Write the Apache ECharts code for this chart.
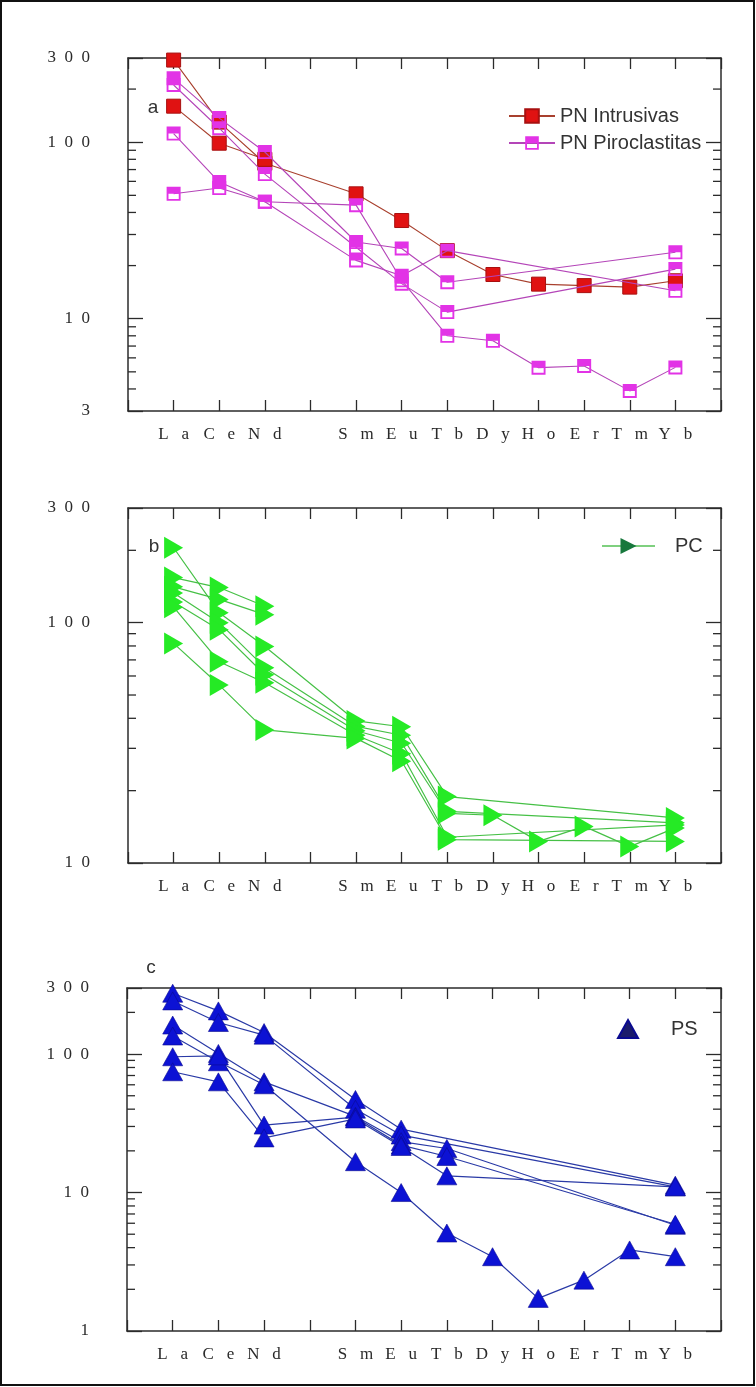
<!DOCTYPE html>
<html>
<head>
<meta charset="utf-8">
<script src="https://cdn.jsdelivr.net/npm/echarts@6/dist/echarts.min.js"></script>
<style>
  html, body { margin: 0; padding: 0; background: #fff; }
  #chart { width: 756px; height: 1387px; }
</style>
</head>
<body>
<div id="chart"></div>
<script>
// Chondrite-normalised REE patterns, three groups of samples.
// Tick slots along x (the blank slot sits between Nd and Sm).
const elements = ['La', 'Ce', 'Nd', '', 'Sm', 'Eu', 'Tb', 'Dy', 'Ho', 'Er', 'Tm', 'Yb'];
const _ = null;

// (a) PN Intrusivas
const pnIntrusivas = [
  [292, 130, 76, _, 51, 36, 24.3, 17.8, 15.7, 15.4, 15.1, 16.4],
  [160, 98.7, 80, _, _, _, _, _, _, _, _, _]
];
// (a) PN Piroclastitas
const pnPiroclastitas = [
  [230, 137, 88, _, 27.2, 25, 16.1, _, _, _, _, 23.8],
  [211, 120, 66, _, 25.4, 15.8, 10.9, _, _, _, _, 19.1],
  [112, 59.5, 46, _, 21.4, 17.5, 24.3, _, _, _, _, 14.4],
  [51, 55, 46, _, 44, 16.5, 8.0, 7.5, 5.28, 5.4, 3.9, 5.3]
];
// (b) PC
const pcSamples = [
  [205, 110, 79.6, _, 39, 36.9, 18.9, _, _, _, _, 15.4],
  [154, 140, 117, _, _, _, _, _, _, _, _, _],
  [141, 125, 108, _, _, _, _, _, _, _, _, _],
  [133, 100, 65, _, 37, 34, 16.4, _, _, _, _, 14.7],
  [122, 93.5, 60.7, _, 35.5, 31.5, 16.1, 15.8, 12.3, 14.2, 11.7, 14.0],
  [116, 68.8, 56.2, _, 34, 28.5, 12.8, _, _, _, _, 14.4],
  [82, 55, 35.8, _, 33, 26.5, 12.5, _, _, _, _, 12.3]
];
// (c) PS
const psSamples = [
  [275, 205, 143, _, 47, 28.7, _, _, _, _, _, 11.3],
  [242, 169, 137, _, 40, 26, _, _, _, _, _, 11.0],
  [162, 101, 63, _, 35.5, 23.3, 20.8, _, _, _, _, 5.8],
  [135, 88, 60, _, 16.7, 10, 5.1, 3.44, 1.72, 2.33, 3.85, 3.44],
  [95.6, 97, 30.7, _, 35, 22, 18.2, _, _, _, _, 5.9],
  [74.5, 63, 24.8, _, 34, 21.5, 13.2, _, _, _, _, 11.0]
];

// y ranges and minor tick values of the three log axes
const yRanges = [[3, 300], [10, 300], [1, 300]];
const minorTicks = [
  [4, 5, 6, 7, 8, 9, 20, 30, 40, 50, 60, 70, 80, 90, 200],
  [20, 30, 40, 50, 60, 70, 80, 90, 200],
  [2, 3, 4, 5, 6, 7, 8, 9, 20, 30, 40, 50, 60, 70, 80, 90, 200]
];

const grids = [
  { left: 128, top: 58, width: 593, height: 353 },
  { left: 128, top: 508, width: 593, height: 355 },
  { left: 127, top: 988, width: 594, height: 343 }
];

const spaceOut = (s, gap) => s.split('').join(gap);
const frameColor = '#2b2b2b';
const serif = "'Liberation Serif', 'DejaVu Serif', serif";
const sans = "'Liberation Sans', Arial, sans-serif";

const xAxes = [], yAxes = [];
grids.forEach((g, i) => {
  const common = {
    type: 'value', gridIndex: i, min: -1, max: 12, interval: 1,
    axisLine: { show: true, onZero: false, lineStyle: { color: frameColor, width: 1.5 } },
    axisTick: { show: true, inside: true, length: 11, lineStyle: { color: frameColor, width: 1.3 } },
    splitLine: { show: false }
  };
  xAxes.push(Object.assign({}, common, {
    position: 'bottom',
    axisLabel: {
      show: true, margin: 15, fontSize: 17, fontFamily: serif, color: '#2a2a2a',
      formatter: v => (elements[v] ? spaceOut(elements[v], '   ') : '')
    }
  }));
  xAxes.push(Object.assign({}, common, { position: 'top', axisLabel: { show: false } }));

  const yc = {
    type: 'log', logBase: 10, gridIndex: i, min: yRanges[i][0], max: yRanges[i][1],
    axisLine: { show: true, onZero: false, lineStyle: { color: frameColor, width: 1.5 } },
    axisTick: { show: true, inside: true, length: 15, lineStyle: { color: frameColor, width: 1.3 } },
    splitLine: { show: false }
  };
  yAxes.push(Object.assign({}, yc, {
    position: 'left',
    axisLabel: {
      show: true, margin: 38, fontSize: 17, fontFamily: serif, color: '#2a2a2a',
      formatter: v => spaceOut(String(Math.round(v)), '  ')
    }
  }));
  yAxes.push(Object.assign({}, yc, { position: 'right', axisLabel: { show: false } }));
});

// Hollow square with the upper half filled
const halfSquare = 'path://M0,0H12V12H0Z M1.6,1.6V10.4H10.4V1.6Z M1.6,1.6H10.4V6H1.6Z';

function makeSeries(name, rows, gi, opts) {
  return rows.map(r => Object.assign({
    type: 'line', name,
    xAxisIndex: gi * 2, yAxisIndex: gi * 2,
    data: r.map((v, k) => (v == null ? null : [k, v])).filter(d => d),
    animation: false, silent: true
  }, opts));
}

const series = [].concat(
  makeSeries('PN Intrusivas', pnIntrusivas, 0, {
    symbol: 'rect', symbolSize: 14, z: 3,
    lineStyle: { color: '#a8402e', width: 1.1 },
    itemStyle: { color: '#e01212', borderColor: '#a81010', borderWidth: 1 }
  }),
  makeSeries('PN Piroclastitas', pnPiroclastitas, 0, {
    symbol: halfSquare, symbolSize: 14, z: 4,
    lineStyle: { color: '#b445b8', width: 1.1 },
    itemStyle: { color: '#e233e6' }
  }),
  makeSeries('PC', pcSamples, 1, {
    symbol: 'triangle', symbolSize: [22, 19], symbolRotate: -90, z: 3,
    lineStyle: { color: '#46c046', width: 1.2 },
    itemStyle: { color: '#25ea25' }
  }),
  makeSeries('PS', psSamples, 2, {
    symbol: 'triangle', symbolSize: [20, 18], z: 3,
    lineStyle: { color: '#2a3aa6', width: 1.2 },
    itemStyle: { color: '#0c12d4', borderColor: '#0a0a90', borderWidth: 0.6 }
  })
);

// Minor ticks on both vertical frame edges, placed through the log axes
minorTicks.forEach((vals, gi) => {
  series.push({
    type: 'custom', xAxisIndex: gi * 2, yAxisIndex: gi * 2, silent: true, z: 2,
    data: vals.map(v => [0, v]),
    renderItem: (params, api) => {
      const cs = params.coordSys;
      const y = api.coord([0, api.value(1)])[1];
      const st = { stroke: frameColor, lineWidth: 1.3 };
      return {
        type: 'group', children: [
          { type: 'line', shape: { x1: cs.x, y1: y, x2: cs.x + 8, y2: y }, style: st },
          { type: 'line', shape: { x1: cs.x + cs.width - 8, y1: y, x2: cs.x + cs.width, y2: y }, style: st }
        ]
      };
    }
  });
});

const legendText = { fontSize: 20, fontFamily: sans, color: '#333' };

const option = {
  animation: false,
  backgroundColor: '#ffffff',
  grid: grids,
  xAxis: xAxes,
  yAxis: yAxes,
  legend: [
    {
      data: ['PN Intrusivas', 'PN Piroclastitas'], orient: 'vertical', selectedMode: false,
      left: 503, top: 101, itemWidth: 46, itemHeight: 17, itemGap: 7,
      textStyle: legendText
    },
    {
      data: [{ name: 'PC', itemStyle: { color: '#17783c' }, lineStyle: { color: '#7fd07f' } }],
      selectedMode: false, left: 596, top: 531, itemWidth: 53, itemHeight: 20,
      textStyle: Object.assign({ padding: [0, 0, 0, 15] }, legendText)
    },
    {
      data: [{ name: 'PS', icon: 'triangle', itemStyle: { color: '#1b1b6b' } }],
      selectedMode: false, left: 612, top: 1014, itemWidth: 20, itemHeight: 18,
      textStyle: Object.assign({ padding: [0, 0, 0, 28] }, legendText)
    }
  ],
  graphic: [
    { type: 'rect', silent: true, shape: { x: 1, y: 1, width: 753, height: 1384 },
      style: { fill: 'none', stroke: '#111', lineWidth: 2 } },
    { type: 'text', x: 153, y: 108, silent: true,
      style: { text: 'a', fontSize: 19, fontFamily: sans, fill: '#333', align: 'center', verticalAlign: 'middle' } },
    { type: 'text', x: 154, y: 547, silent: true,
      style: { text: 'b', fontSize: 19, fontFamily: sans, fill: '#333', align: 'center', verticalAlign: 'middle' } },
    { type: 'text', x: 151, y: 968, silent: true,
      style: { text: 'c', fontSize: 19, fontFamily: sans, fill: '#333', align: 'center', verticalAlign: 'middle' } }
  ],
  series
};

const chart = echarts.init(document.getElementById('chart'), null, { renderer: 'canvas' });
chart.setOption(option);
</script>
</body>
</html>
